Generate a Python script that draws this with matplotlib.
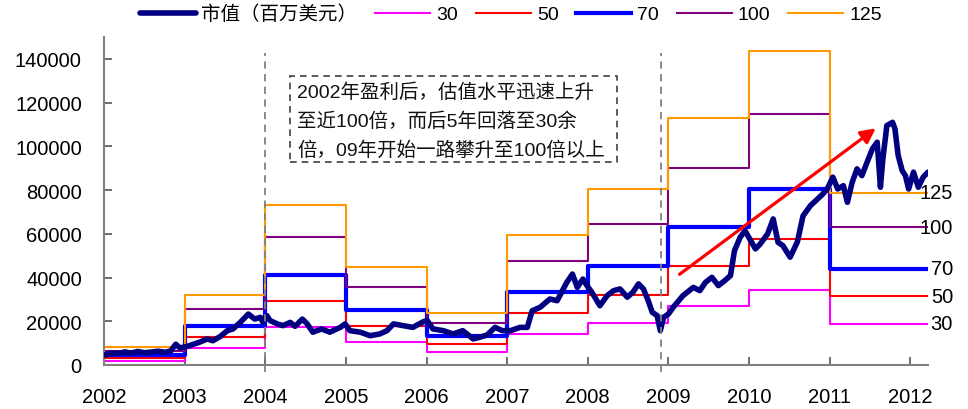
import numpy as np
import matplotlib
matplotlib.use('Agg')
import matplotlib.pyplot as plt
import matplotlib.transforms as mtransforms
from matplotlib.patches import Rectangle

plt.rcParams['font.family'] = ['Liberation Sans', 'Noto Sans CJK SC']

# year boundaries of the PE bands (last one = end of data)
band_edges = [2002, 2003, 2004, 2005, 2006, 2007, 2008, 2009, 2010, 2011, 2012.22]
band_labels = ['30', '50', '70', '100', '125']
band_30 = [1950, 7700, 17600, 10700, 5800, 14300, 19300, 27100, 34500, 18900]
band_50 = [3250, 12850, 29300, 17850, 9600, 23850, 32200, 45150, 57500, 31500]
band_70 = [4550, 18000, 41000, 25000, 13450, 33400, 45150, 63200, 80500, 44100]
band_100 = [6500, 25700, 58600, 35700, 19200, 47700, 64500, 90300, 115000, 63000]
band_125 = [8100, 32100, 73300, 44600, 24000, 59600, 80600, 112900, 143700, 78800]

# market cap (million USD)
mc_t = [2002.00, 2002.09, 2002.17, 2002.26, 2002.33, 2002.42, 2002.50, 2002.58, 2002.67, 2002.76,
        2002.83, 2002.89, 2002.94,
        2003.03, 2003.19, 2003.28, 2003.35, 2003.44, 2003.53, 2003.60, 2003.69, 2003.79, 2003.87,
        2003.94, 2003.97,
        2004.02, 2004.06, 2004.15, 2004.22, 2004.31, 2004.37, 2004.46, 2004.52, 2004.59, 2004.70,
        2004.80, 2004.93, 2004.99,
        2005.05, 2005.18, 2005.30, 2005.42, 2005.51, 2005.59, 2005.71, 2005.83, 2005.96,
        2006.01, 2006.08, 2006.21, 2006.33, 2006.45, 2006.58, 2006.66, 2006.75, 2006.85, 2006.94,
        2007.04, 2007.16, 2007.25, 2007.31, 2007.41, 2007.53, 2007.62, 2007.74, 2007.81, 2007.87,
        2007.94, 2007.99,
        2008.05, 2008.15, 2008.24, 2008.32, 2008.40, 2008.49, 2008.56, 2008.63, 2008.69, 2008.75,
        2008.80, 2008.86, 2008.90, 2008.94,
        2009.00, 2009.06, 2009.18, 2009.31, 2009.39, 2009.46, 2009.54, 2009.62, 2009.70, 2009.77,
        2009.82, 2009.89, 2009.95,
        2010.01, 2010.08, 2010.14, 2010.23, 2010.30, 2010.36, 2010.42, 2010.51, 2010.60, 2010.67,
        2010.76, 2010.85, 2010.91, 2010.97,
        2011.04, 2011.10, 2011.17, 2011.22, 2011.28, 2011.34, 2011.40, 2011.48, 2011.53, 2011.59,
        2011.63, 2011.66, 2011.71, 2011.78, 2011.81, 2011.85, 2011.90, 2011.94, 2011.98,
        2012.04, 2012.10, 2012.16, 2012.22]
mc_v = [4500, 5500, 5200, 6000, 5400, 6200, 5600, 5900, 6300, 5800,
        6500, 9500, 7800,
        8500, 10500, 11900, 11100, 13000, 15700, 16500, 19500, 23300, 21000,
        21800, 19600,
        22600, 20300, 18800, 18000, 19500, 17700, 21000, 18800, 15000, 16500,
        15000, 17200, 18800,
        15700, 15000, 13400, 14200, 15700, 18800, 18000, 17200, 19800,
        20300, 16500, 15700, 14200, 15700, 11900, 12700, 13700, 17200, 15700,
        15700, 17200, 17200, 24800, 26400, 30200, 29400, 37800, 41600, 35500,
        39300, 36300,
        33300, 27100, 31700, 34000, 34800, 31000, 33300, 37100, 34800, 29400,
        24100, 22600, 15700, 21800,
        23300, 26400, 31700, 35500, 34000, 37800, 40100, 36300, 38600, 40900,
        52300, 58400, 61400,
        57600, 53100, 55400, 59900, 66800, 56100, 54600, 49300, 56300, 68200,
        72800, 75900, 78000, 80500,
        85900, 80500, 82000, 74400, 83600, 89700, 86600, 94200, 98800, 101900,
        81300, 94200, 109500, 111000, 108000, 95800, 88900, 86600, 80500,
        88200, 81300, 85900, 88200]

years = list(range(2002, 2013))
yticks = [0, 20000, 40000, 60000, 80000, 100000, 120000, 140000]

note_lines = ['2002年盈利后，估值水平迅速上升',
              '至近100倍，而后5年回落至30余',
              '倍，09年开始一路攀升至100倍以上']

fig = plt.figure(figsize=(9.68, 4.10), dpi=100)
ax = fig.add_axes([104/968, 1-366/410, (928-104)/968, (366-38)/410])

bands = [band_30, band_50, band_70, band_100, band_125]
colors = ['#ff00ff', '#ff0000', '#0000ff', '#800080', '#ff9900']
widths = [1.5, 1.5, 3.0, 1.5, 1.5]

handles = []
for vals, c, w, lab in zip(bands, colors, widths, band_labels):
    h, = ax.step(band_edges, vals + [vals[-1]], where='post', color=c, lw=w, label=lab)
    handles.append(h)

mc_line, = ax.plot(mc_t, mc_v, color='#000080', lw=4.0, solid_joinstyle='round',
                   solid_capstyle='round', label='市值（百万美元）', zorder=5)

# dashed markers
for xv in [2004.0, 2008.91]:
    ax.plot([xv, xv], [-3000, 142500], color='#808080', lw=1.3, ls=(0, (4, 3)),
            clip_on=False, zorder=6)

# red trend arrow
ax.annotate('', xy=(2011.60, 109000), xytext=(2009.11, 40700),
            arrowprops=dict(arrowstyle='-|>', color='red', lw=2.3, mutation_scale=22),
            zorder=7)

# labels at the right end of bands
trans = mtransforms.blended_transform_factory(fig.transFigure, ax.transData)
for vals, lab in zip(bands, band_labels):
    ax.text(953/968, vals[-1], lab, transform=trans, fontsize=14.5,
            ha='right', va='center', clip_on=False, zorder=8)

ax.set_xlim(2002, 2012.22)
ax.set_ylim(0, 150000)
ax.set_xticks(years)
ax.set_xticklabels([str(y) for y in years])
ax.set_yticks(yticks)
ax.set_yticklabels([str(v) for v in yticks])
ax.tick_params(axis='both', direction='in', length=6, width=1.2, color='#555555',
               labelsize=14.5, pad=16)
for s in ['top', 'right']:
    ax.spines[s].set_visible(False)
for s in ['left', 'bottom']:
    ax.spines[s].set_color('#808080')
    ax.spines[s].set_linewidth(1.5)

# note box
fig.patches.append(Rectangle((290/968, 1-163/410), (617-290)/968, (163-77)/410,
                             transform=fig.transFigure, fill=False, ec='#404040',
                             lw=1.2, ls=(0, (4, 3))))
for i, line in enumerate(note_lines):
    fig.text(297/968, 1-(93+29*i)/410, line, fontsize=14, ha='left', va='center',
             color='#111111')

fig.legend([mc_line] + handles, ['市值（百万美元）'] + band_labels, loc='center',
           bbox_to_anchor=(511/968, 1-15/410), ncol=6, frameon=False, fontsize=14,
           handlelength=2.85, handletextpad=0.3, columnspacing=0.9)

fig.savefig('out.png', dpi=100)
